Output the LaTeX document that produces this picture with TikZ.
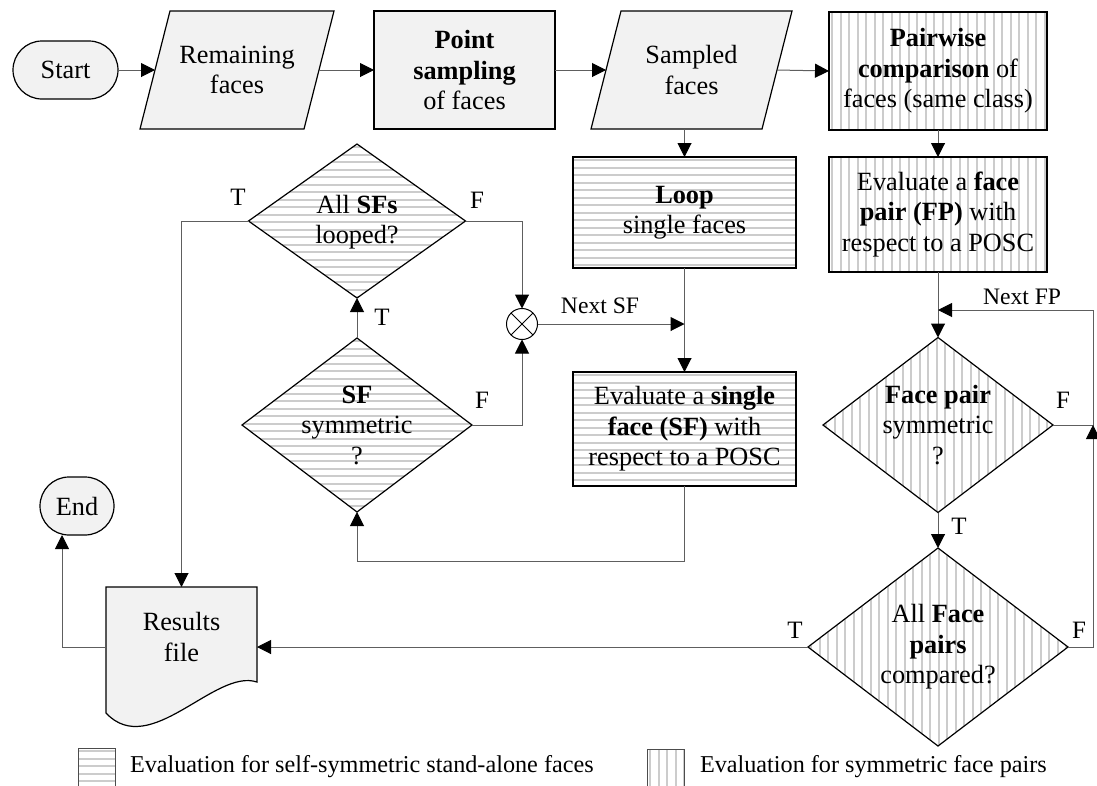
\documentclass[tikz,border=0pt]{standalone}
\usepackage{fontspec}
\setmainfont{Liberation Serif}
\usetikzlibrary{arrows.meta,shapes.geometric,calc}
\definecolor{boxfill}{HTML}{F2F2F2}
\definecolor{hatchcol}{HTML}{CCCCCC}
\definecolor{conncol}{HTML}{5E5E5E}
\begin{document}
\begin{tikzpicture}[x=1pt,y=-1pt,
  every node/.style={outer sep=0pt,inner sep=0pt},
  ft/.style={font=\fontsize{26.3}{30.5}\selectfont},
  txt/.style={ft,align=center},
  hpat/.style={fill=white,path picture={
    \foreach \k in {0,...,30}{
      \draw[hatchcol,line width=2pt] ([yshift={-3-\k*7.5}]path picture bounding box.north west) -- ([yshift={-3-\k*7.5}]path picture bounding box.north east);
    }}},
  vpat/.style={fill=white,path picture={
    \foreach \k in {0,...,34}{
      \draw[hatchcol,line width=2pt] ([xshift={3+\k*8.5}]path picture bounding box.north west) -- ([xshift={3+\k*8.5}]path picture bounding box.south west);
    }}},
  gbox/.style={draw,line width=1.2pt,fill=boxfill,txt},
  hbox/.style={draw,line width=1.2pt,hpat,txt},
  vbox/.style={draw,line width=1.2pt,vpat,txt},
  term/.style={draw,line width=1.2pt,fill=boxfill,rounded corners=29pt,txt,minimum height=58pt},
  dia/.style={diamond,draw,line width=1.2pt},
  conn/.style={draw=conncol,line width=1pt,-{Triangle[length=14pt,width=14pt,color=black]}},
  lbl/.style={font=\fontsize{25}{30}\selectfont},
  nlbl/.style={font=\fontsize{23.6}{28}\selectfont},
  legtxt/.style={font=\fontsize{24.2}{28}\selectfont,anchor=west},
]
\useasboundingbox (0,0) rectangle (1097,785);

% top row
\node[term,minimum width=105pt] (start) at (65.5,70) {Start};
\draw[line width=1.2pt,fill=boxfill] (170,11) -- (334,11) -- (304,129) -- (140,129) -- cycle;
\node[txt,minimum width=164pt,minimum height=118pt] (rem) at (237,70) {Remaining\\faces};
\node[gbox,minimum width=181pt,minimum height=118pt] (point) at (464.5,70) {\textbf{Point}\\\textbf{sampling}\\of faces};
\draw[line width=1.2pt,fill=boxfill] (621,11) -- (792,11) -- (762,129) -- (591,129) -- cycle;
\node[txt,minimum width=171pt,minimum height=118pt] (samp) at (691.5,70) {Sampled\\faces};
\node[vbox,minimum width=218pt,minimum height=118pt] (pair) at (938,71) {\textbf{Pairwise}\\\textbf{comparison} of\\faces (same class)};

% middle column
\node[hbox,minimum width=223pt,minimum height=111pt] (loop) at (684.5,212.5) {\textbf{Loop}\\single faces};
\node[hbox,minimum width=223pt,minimum height=114pt] (evsf) at (684.5,429) {Evaluate a \textbf{single}\\\textbf{face (SF)} with\\respect to a POSC};

% right column
\node[vbox,minimum width=218pt,minimum height=115pt] (evfp) at (938,214.5) {Evaluate a \textbf{face}\\\textbf{pair (FP)} with\\respect to a POSC};
\node[dia,vpat,minimum width=230pt,minimum height=175pt] (d3) at (938,425) {};
\node[txt] (d3t) at (938,425) {\textbf{Face pair}\\symmetric\\?};
\node[dia,vpat,minimum width=260pt,minimum height=198pt] (d4) at (938,647) {};
\node[txt] (d4t) at (938,647) {All \textbf{Face}\\\textbf{pairs}\\compared?};

% left column
\node[dia,hpat,minimum width=217pt,minimum height=154pt] (d1) at (357,221) {};
\node[txt] (d1t) at (357,222) {All \textbf{SFs}\\looped?};
\node[dia,hpat,minimum width=230pt,minimum height=174pt] (d2) at (357,425) {};
\node[txt] (d2t) at (357,425) {\textbf{SF}\\symmetric\\?};
\node[circle,draw,line width=1pt,fill=white,minimum size=31pt,
  path picture={\draw[line width=0.8pt] (path picture bounding box.north west) -- (path picture bounding box.south east) (path picture bounding box.north east) -- (path picture bounding box.south west);}] (sum) at (522,324) {};

% results and end
\node[term,minimum width=74pt] (endn) at (77,506) {End};
\node[minimum width=151pt,minimum height=120pt] (res) at (181.5,647) {};
\draw[line width=1.2pt,fill=boxfill] (res.north west) -- (res.north east) -- (257,682) .. controls (215,668) and (150,760) .. (106,713) -- cycle;
\node[txt] (rest) at (181.5,637) {Results\\file};

% connectors
\draw[conn] (start) -- (rem.west);
\draw[conn] (rem.east) -- (point.west);
\draw[conn] (point.east) -- (samp.west);
\draw[conn] (samp.east) -- (pair.west);
\draw[conn] (samp.south -| loop.north) -- (loop.north);
\draw[conn] (pair.south) -- (evfp.north);
\draw[conn] (loop.south) -- (evsf.north);
\draw[conn] (evsf.south) -- ++(0,75) -| (d2.south);
\draw[conn] (d2.north) -- (d1.south);
\draw[conn] (d1.east) -| (sum.north);
\draw[conn] (d2.east) -| (sum.south);
\draw[conn] (sum.east) -- (sum.east -| loop.south);
\draw[conn] (d1.west) -| (res.north);
\draw[conn] (d4.west) -- (res.east);
\draw[conn] (res.west) -| ([xshift=-15pt]endn.south);
\draw[conn] (evfp.south) -- (d3.north);
\draw[conn] (d3.south) -- (d4.north);
\coordinate (rc) at (1093,310);
\coordinate (rj) at (1093,425);
\draw[conn] (d3.east) -| (rc) -- (rc -| d3.north);
\draw[conn] (d4.east) -| (rj);

% labels
\node[lbl] (t1) at (238,197) {T};
\node[lbl] (f1) at (477,200) {F};
\node[lbl] (t2) at (382,317) {T};
\node[lbl] (f2) at (482,400) {F};
\node[nlbl] (nsf) at (600,306) {Next SF};
\node[nlbl] (nfp) at (1022,297) {Next FP};
\node[lbl] (f3) at (1063,400) {F};
\node[lbl] (t3) at (959,526) {T};
\node[lbl] (t4) at (795,630) {T};
\node[lbl] (f4) at (1079,630) {F};

% legend
\node[draw=black!70,line width=1pt,hpat,minimum width=37pt,minimum height=50pt,anchor=north west] (lg1) at (78,748) {};
\node[legtxt] (lt1) at (130,767) {Evaluation for self-symmetric stand-alone faces};
\node[draw=black!70,line width=1pt,vpat,minimum width=37pt,minimum height=50pt,anchor=north west] (lg2) at (647,749) {};
\node[legtxt] (lt2) at (700,767) {Evaluation for symmetric face pairs};
\end{tikzpicture}
\end{document}
